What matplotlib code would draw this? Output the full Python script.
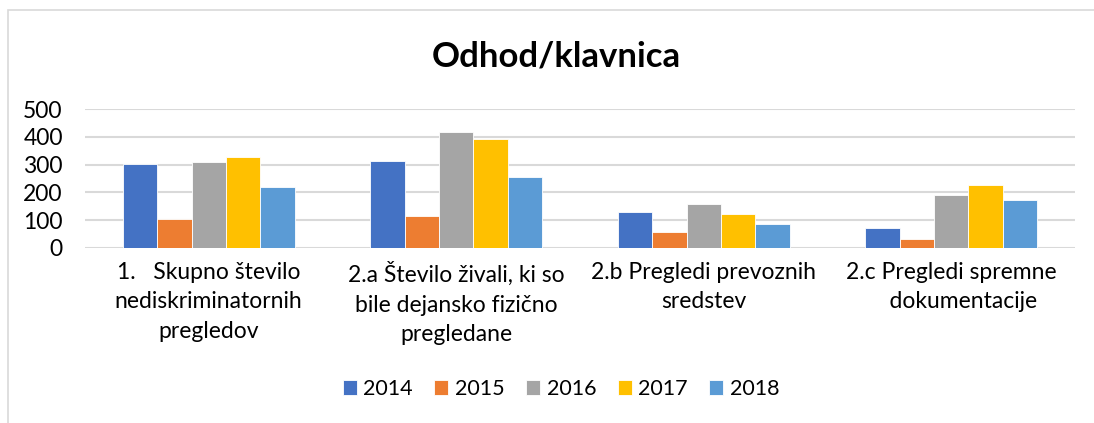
import numpy as np
import matplotlib
matplotlib.use("Agg")
import matplotlib.pyplot as plt
from matplotlib.patches import Rectangle

plt.rcParams['font.family'] = ['Lato', 'DejaVu Sans']

# podatki
categories = [
    "1.   Skupno število\nnediskriminatornih\npregledov",
    "2.a Število živali, ki so\nbile dejansko fizično\npregledane",
    "2.b Pregledi prevoznih\nsredstev",
    "2.c Pregledi spremne\n    dokumentacije",
]
years = ["2014", "2015", "2016", "2017", "2018"]
v2014 = [302, 312, 128, 71]
v2015 = [106, 115, 58, 33]
v2016 = [310, 417, 160, 189]
v2017 = [327, 393, 124, 226]
v2018 = [218, 254, 87, 172]
colors = ["#4472C4", "#ED7D31", "#A5A5A5", "#FFC000", "#5B9BD5"]

series = [v2014, v2015, v2016, v2017, v2018]

fig = plt.figure(figsize=(10.94, 4.23), dpi=100)
# okvir grafa
fig.patches.append(Rectangle((8 / 1094, -0.1), 1.2, (1 - 10 / 423) + 0.1,
                             transform=fig.transFigure, fill=False,
                             edgecolor="#d9d9d9", linewidth=1.2))

ax = fig.add_axes([85 / 1094, 1 - 248 / 423, 990 / 1094, 139 / 423])

x = np.arange(len(categories))
gap = 2.19
w = 1 / (len(years) + gap)
for i, (yr, vals) in enumerate(zip(years, series)):
    offs = (i - (len(years) - 1) / 2) * w
    ax.bar(x + offs, vals, width=w, color=colors[i], edgecolor="white",
           linewidth=0.6, label=yr, zorder=3)

fs = 16.5
ax.set_xlim(-0.5, len(categories) - 0.5)
ax.set_ylim(0, 500)
ax.set_yticks(range(0, 501, 100))
ax.yaxis.grid(True, color="#d9d9d9", linewidth=1.5, zorder=0)
ax.set_axisbelow(True)
for s in ax.spines.values():
    s.set_visible(False)
ax.tick_params(axis="both", length=0, labelsize=fs, colors="#000000")
ax.tick_params(axis="y", pad=16)
ax.set_xticks(x)
ax.set_xticklabels(categories, fontsize=fs, linespacing=1.5)
ax.tick_params(axis="x", pad=10)

fig.text(556 / 1094, 1 - 57 / 423, "Odhod/klavnica", ha="center", va="center",
         fontsize=25, fontweight="bold")

fig.legend(loc="center", bbox_to_anchor=(561 / 1094, 1 - 389 / 423), ncol=5,
           frameon=False, fontsize=15.5, handlelength=0.65, handleheight=0.65,
           handletextpad=0.3, columnspacing=1.0)

fig.savefig("out.png", dpi=100)
